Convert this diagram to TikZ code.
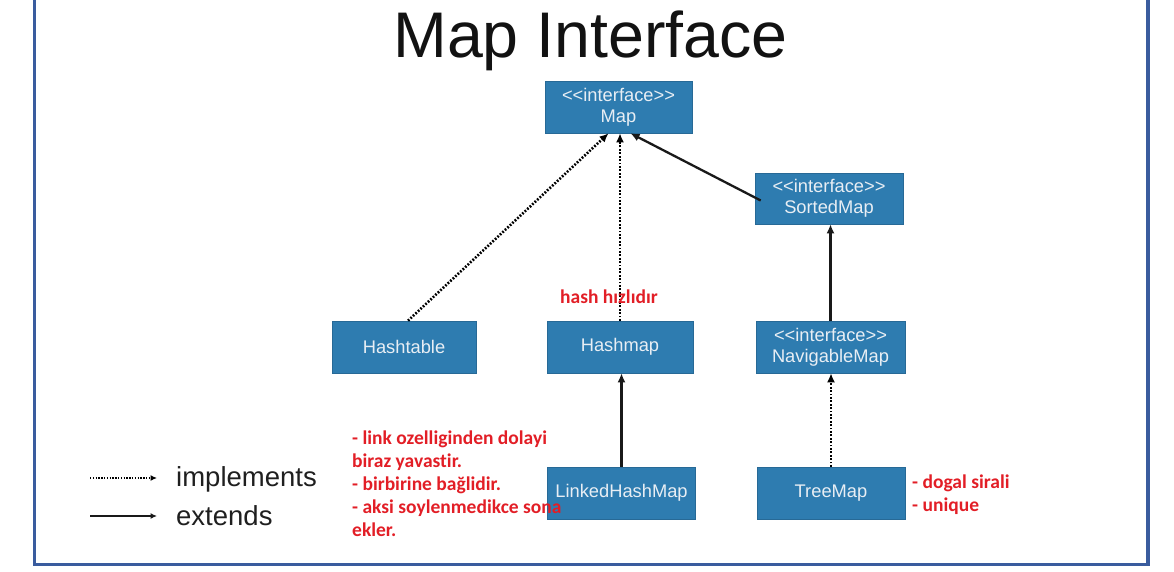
\documentclass[tikz,border=0pt]{standalone}
\usepackage{fontspec}
\setmainfont{Liberation Sans}
\newfontfamily\notefam[Ligatures={NoCommon}]{Carlito}
\usetikzlibrary{arrows.meta,calc}
\definecolor{framec}{RGB}{58,92,158}
\definecolor{boxc}{RGB}{46,124,176}
\definecolor{boxtxt}{RGB}{232,238,244}
\definecolor{notec}{RGB}{226,30,38}
\tikzset{
  umlbox/.style={fill=boxc, draw=boxc!85!black, line width=0.6pt, text=boxtxt, align=center,
     inner sep=0pt, minimum height=52pt, minimum width=147pt,
     font=\fontsize{18.3}{21}\selectfont},
  impl/.style={line width=2.6pt, dash pattern=on 1.8pt off 1.6pt, -{Latex[length=9pt,width=8pt]}, draw=black},
  ext/.style={line width=2.3pt, -{Latex[length=9pt,width=8pt]}, draw=black!90},
  note/.style={text=notec, inner sep=0pt, align=left, font=\notefam\bfseries\fontsize{19.5}{23}\selectfont},
  legtxt/.style={text=black!88, inner sep=0pt, font=\fontsize{27.5}{30}\selectfont},
}
\begin{document}
\begin{tikzpicture}[x=1pt,y=-1pt]
\useasboundingbox (0,0) rectangle (1174,572);
% frame
\draw[framec, line width=3.5pt] (34.5,-5) -- (34.5,564.5) -- (1148,564.5) -- (1148,-5);
% title
\node[anchor=base, inner sep=0pt, text=black!93, font=\fontsize{64.5}{70}\selectfont] (title) at (590.5,58) {Map Interface};
% boxes
\node[umlbox] (map) at (618.5,107) {<{}<interface>{}>\\Map};
\node[umlbox, minimum width=148pt, minimum height=51pt] (sorted) at (829,198.5) {<{}<interface>{}>\\SortedMap};
\node[umlbox, minimum width=144pt] (hashtable) at (404,347) {Hashtable};
\node[umlbox, minimum width=146pt] (hashmap) at (620,347) {Hashmap};
\node[umlbox, minimum width=149pt] (navig) at (830.5,347) {<{}<interface>{}>\\NavigableMap};
\node[umlbox, minimum width=148pt] (linked) at (621.5,493) {LinkedHashMap};
\node[umlbox, minimum width=148pt] (tree) at (831,493) {TreeMap};
% connectors
\draw[impl] ($(hashtable.north)+(4,0)$) -- ($(map.south)+(-10,0)$);
\draw[impl] (hashmap.north) -- (hashmap.north |- map.south);
\draw[ext] ($(sorted.west)+(6,2)$) -- ($(map.south)+(12,0)$);
\draw[ext] (navig.north) -- (navig.north |- sorted.south);
\draw[ext] (linked.north) -- (linked.north |- hashmap.south);
\draw[impl] (tree.north) -- (tree.north |- navig.south);
% legend
\coordinate (l1a) at (90,478);
\coordinate (l1b) at (157,478);
\coordinate (l2a) at (90,516);
\coordinate (l2b) at (157,516);
\draw[impl, line width=1.8pt, dash pattern=on 1.3pt off 1.5pt, -{Latex[length=6.5pt,width=6pt]}] (l1a) -- (l1b);
\draw[ext, line width=1.7pt, -{Latex[length=6.5pt,width=6pt]}] (l2a) -- (l2b);
\node[legtxt, anchor=base west] (limpl) at (176,486) {implements};
\node[legtxt, anchor=base west] (lext) at (176,525) {extends};
% notes
\node[note, anchor=base west] (nhash) at (560,303) {hash hızlıdır};
\node[note, anchor=north west] (nlinked) at (352,431) {- link ozelliginden dolayi\\biraz yavastir.\\- birbirine bağlidir.\\- aksi soylenmedikce sona\\ekler.};
\node[note, anchor=north west] (ntree) at (912,475) {- dogal sirali\\- unique};
\end{tikzpicture}
\end{document}
